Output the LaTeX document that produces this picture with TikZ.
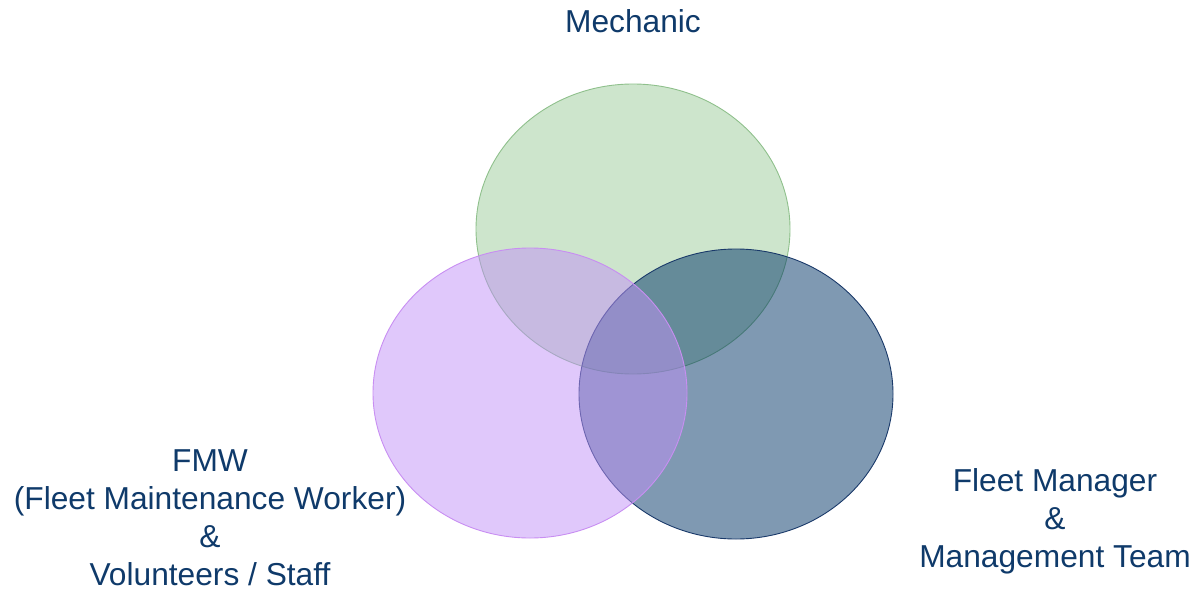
\documentclass[tikz,border=0pt]{standalone}
\usepackage{fontspec}
\setmainfont{Liberation Sans}
\usetikzlibrary{shapes.geometric}
\definecolor{txt}{HTML}{0F3A6A}
\definecolor{gfill}{HTML}{9BCB99}
\definecolor{gline}{HTML}{8FC08C}
\definecolor{pfill}{HTML}{C191F7}
\definecolor{pline}{HTML}{C88EF2}
\definecolor{bfill}{HTML}{003366}
\definecolor{bline}{HTML}{1A3A6A}
\begin{document}
\begin{tikzpicture}[x=1pt,y=1pt,
  setc/.style={ellipse, minimum width=314pt, minimum height=290pt, inner sep=0pt, fill opacity=0.5, line width=0.9pt},
  lab/.style={text=txt, align=center, font=\fontsize{31.7}{38}\selectfont, inner sep=0pt}]
\useasboundingbox (0,0) rectangle (1201,-591);
\node[setc, fill=gfill, draw=gline] (mech) at (633,-229) {};
\node[setc, fill=bfill, draw=bline] (mgr) at (736,-394) {};
\node[setc, fill=pfill, draw=pline] (fmw) at (530,-393) {};
\node[lab] (lmech) at (633,-21) {Mechanic};
\node[lab] (lfmw) at (210,-518) {FMW\\(Fleet Maintenance Worker)\\\&\\Volunteers / Staff};
\node[lab] (lmgr) at (1055,-521) {Fleet Manager\\\&\\Management Team};
\end{tikzpicture}
\end{document}
